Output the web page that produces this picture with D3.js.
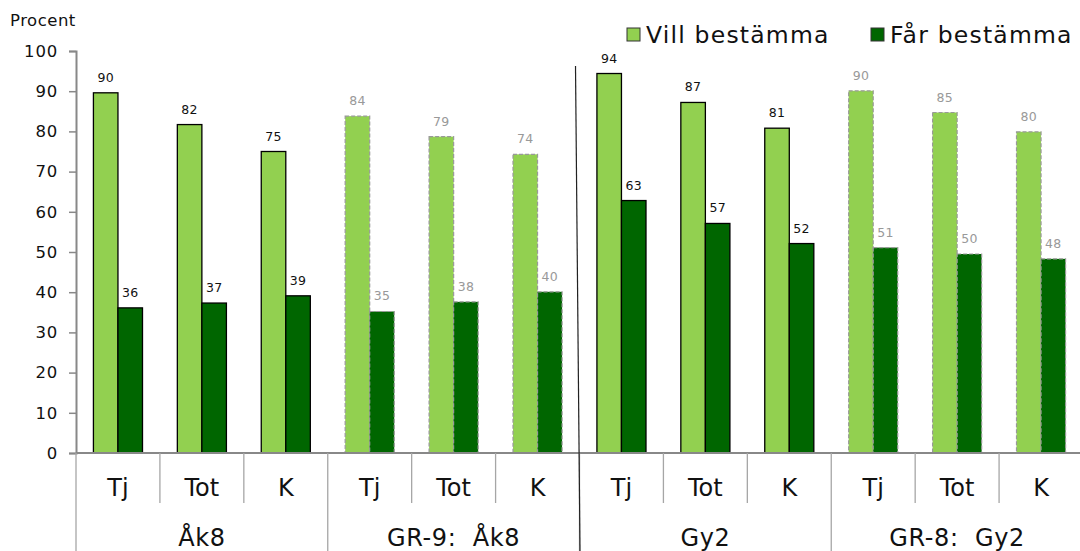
<!DOCTYPE html>
<html><head><meta charset="utf-8">
<script src="https://cdn.jsdelivr.net/npm/d3@7"></script>
<style>
body{margin:0;background:#fff;}
svg{display:block;font-family:"DejaVu Sans",Verdana,sans-serif;}
</style></head>
<body><svg id="c" width="1080" height="551"></svg>
<script>
const groups = ["Åk8", "GR-9:  Åk8", "Gy2", "GR-8:  Gy2"];
const subcats = ["Tj", "Tot", "K"];
const series = ["Vill bestämma", "Får bestämma"];
const villValues = [89.6, 81.7, 75.0, 83.8, 78.7, 74.3, 94.4, 87.2, 80.8, 90.1, 84.7, 79.9];
const farValues  = [36.1, 37.3, 39.1, 35.2, 37.6, 40.1, 62.8, 57.1, 52.1, 51.1, 49.5, 48.3];
const dashedGroups = [false, true, false, true];
const yTicks = [0, 10, 20, 30, 40, 50, 60, 70, 80, 90, 100];

(function(){
const colors = ["#92D050", "#006600"];
const svg = d3.select("#c");
const pLeft = 76, pRight = 1083, pTop = 51, pBottom = 453;

const cats = [];
groups.forEach((g, gi) => subcats.forEach((s, si) => cats.push({g, gi, s, key: gi + "-" + s, i: gi * 3 + si})));

const x = d3.scaleBand().domain(cats.map(d => d.key)).range([pLeft, pRight]).paddingInner(0).paddingOuter(0);
const xs = d3.scaleBand().domain(series).range([0, x.bandwidth()]).paddingInner(0).paddingOuter(0.71);
const y = d3.scaleLinear().domain([0, 100]).range([pBottom, pTop]);

// y axis
const yAxis = d3.axisLeft(y).tickValues(yTicks).tickSize(7).tickPadding(11);
const ga = svg.append("g").attr("transform", `translate(${pLeft},0)`).call(yAxis);
ga.select(".domain").attr("stroke", "#888").attr("stroke-width", 2);
ga.selectAll(".tick line").attr("stroke", "#888").attr("stroke-width", 1.5);
ga.selectAll(".tick text").attr("font-size", 16.5).attr("letter-spacing", 0.8).attr("fill", "#111")
  .attr("font-family", "DejaVu Sans, Verdana, sans-serif");

// bars
const data = [];
cats.forEach(c => {
  data.push({c, s: series[0], v: villValues[c.i]});
  data.push({c, s: series[1], v: farValues[c.i]});
});
const bars = svg.append("g");
bars.selectAll("rect").data(data).join("rect")
  .attr("x", d => x(d.c.key) + xs(d.s))
  .attr("y", d => y(d.v))
  .attr("width", xs.bandwidth())
  .attr("height", d => y(0) - y(d.v))
  .attr("fill", d => colors[series.indexOf(d.s)])
  .attr("stroke", d => dashedGroups[d.c.gi] ? "#999" : "#000")
  .attr("stroke-width", d => dashedGroups[d.c.gi] ? 1.2 : 1.3)
  .attr("stroke-dasharray", d => dashedGroups[d.c.gi] ? "4,2" : null);

bars.selectAll("text").data(data).join("text")
  .attr("x", d => x(d.c.key) + xs(d.s) + xs.bandwidth() / 2)
  .attr("y", d => y(d.v) - 11)
  .attr("text-anchor", "middle")
  .attr("font-size", 12.5)
  .attr("letter-spacing", 0.3)
  .attr("fill", d => dashedGroups[d.c.gi] ? "#999" : "#111")
  .text(d => Math.round(d.v));

// x axis baseline
svg.append("line").attr("x1", pLeft).attr("x2", 1080).attr("y1", y(0)).attr("y2", y(0))
  .attr("stroke", "#888").attr("stroke-width", 2);

// category separators
const sepG = svg.append("g").attr("stroke", "#a6a6a6").attr("stroke-width", 1.3);
cats.forEach((c, i) => {
  const xx = x(c.key);
  const isGroupStart = i % 3 === 0;
  sepG.append("line").attr("x1", xx).attr("x2", xx).attr("y1", y(0)).attr("y2", isGroupStart ? 551 : 503);
});
// category labels
svg.append("g").selectAll("text").data(cats).join("text")
  .attr("x", d => x(d.key) + x.bandwidth() / 2)
  .attr("y", 496)
  .attr("text-anchor", "middle")
  .attr("font-size", 24)
  .attr("fill", "#111")
  .text(d => d.s);
// group labels
svg.append("g").selectAll("text").data(groups).join("text")
  .attr("x", (d, gi) => x(gi + "-Tot") + x.bandwidth() / 2)
  .attr("y", 546)
  .attr("text-anchor", "middle")
  .attr("font-size", 24)
  .attr("letter-spacing", 0.6)
  .attr("fill", "#111")
  .style("white-space", "pre")
  .text(d => d);

// slanted divider between Åk8 and Gy2 parts
svg.append("line").attr("x1", x("2-Tj") - 4).attr("y1", 66).attr("x2", x("2-Tj") + 0.5).attr("y2", 551)
  .attr("stroke", "#222").attr("stroke-width", 1.2);

// Procent label
svg.append("text").attr("x", 10).attr("y", 26).attr("font-size", 16.5).attr("letter-spacing", 0.5)
  .attr("fill", "#111").text("Procent");

// legend
const legX = [627, 871];
const leg = svg.append("g");
series.forEach((s, i) => {
  leg.append("rect").attr("x", legX[i]).attr("y", 28).attr("width", 13).attr("height", 13)
    .attr("fill", colors[i]).attr("stroke", "#333").attr("stroke-width", 1);
  leg.append("text").attr("x", legX[i] + 19).attr("y", 42.5).attr("font-size", 23.5).attr("letter-spacing", 1.2)
    .attr("fill", "#111").text(s);
});
})();
</script></body></html>
